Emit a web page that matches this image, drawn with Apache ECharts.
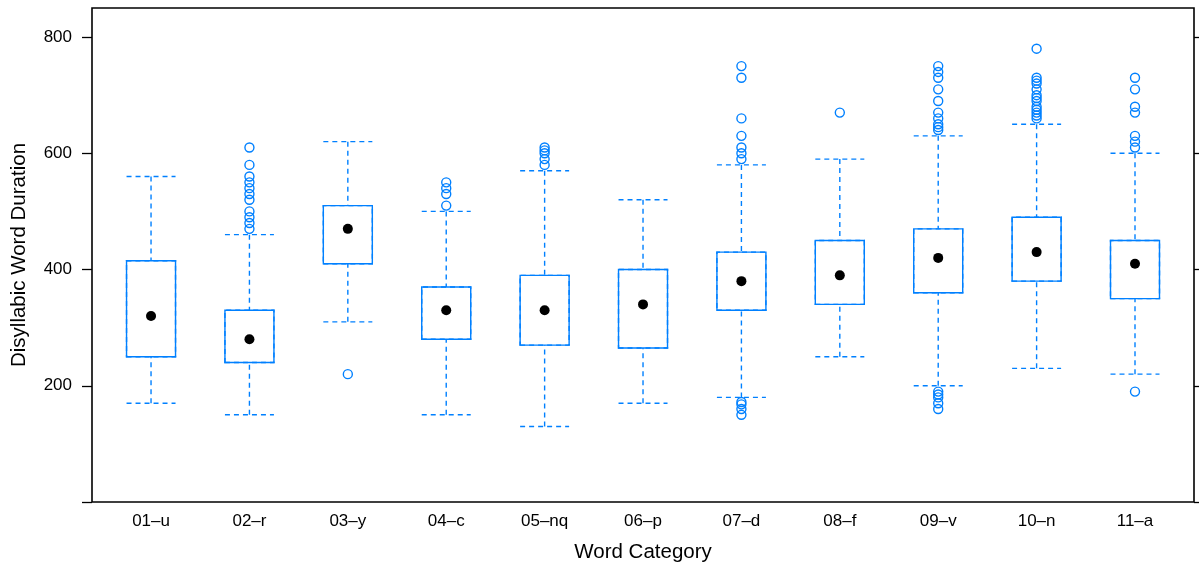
<!DOCTYPE html>
<html>
<head>
<meta charset="utf-8">
<script src="https://cdn.jsdelivr.net/npm/echarts@6/dist/echarts.min.js"></script>
<style>html,body{margin:0;padding:0;background:#fff;}#c{width:1199px;height:569px;}</style>
</head>
<body>
<div id="c"></div>
<script>
const categories = ['01–u','02–r','03–y','04–c','05–nq','06–p','07–d','08–f','09–v','10–n','11–a'];
const whiskerLow  = [170,150,310,150,130,170,180,250,200,230,220];
const q1          = [250,240,410,280,270,265,330,340,360,380,350];
const medians     = [320,280,470,330,330,340,380,390,420,430,410];
const q3          = [415,330,510,370,390,400,430,450,470,490,450];
const whiskerHigh = [560,460,620,500,570,520,580,590,630,650,600];
const out01 = [];
const out02 = [610,580,560,550,540,530,520,500,490,480,470];
const out03 = [220];
const out04 = [550,540,530,510];
const out05 = [610,605,600,590,580];
const out06 = [];
const out07 = [750,730,660,630,610,600,590,172,168,160,150];
const out08 = [670];
const out09 = [750,740,730,710,690,670,660,650,645,640,190,185,180,170,160];
const out10 = [780,730,725,720,710,700,695,690,680,675,670,665,660];
const out11 = [730,710,680,670,630,620,610,190];
const yTickValues = [0,200,400,600,800];
const yLabelValues = [200,400,600,800];

const outlierLists = [out01,out02,out03,out04,out05,out06,out07,out08,out09,out10,out11];
const whiskerData = categories.map((c,i)=>[whiskerLow[i], q1[i], q1[i], q3[i], whiskerHigh[i]]);
const boxData = categories.map((c,i)=>[q1[i], q1[i], q1[i], q3[i], q3[i]]);
const outlierData = [];
outlierLists.forEach((lst,i)=>lst.forEach(v=>outlierData.push([i, v])));
const medianData = medians.map((v,i)=>[i, v]);

const BLUE = '#0080ff';
const FONT = 'Liberation Sans, Arial, sans-serif';
const chart = echarts.init(document.getElementById('c'), null, {renderer:'canvas'});
chart.setOption({
  animation: false,
  grid: [
    {left: 92, right: 5, top: 8, bottom: 67, show: true, borderColor: '#000', borderWidth: 1.6, backgroundColor: 'transparent'},
    {left: 101.84, right: 14.8, top: 8, bottom: 67}
  ],
  xAxis: [
    {gridIndex: 0, type: 'value', show: false, min: 0, max: 1},
    {gridIndex: 1, type: 'category', data: categories,
     axisLine: {show: false}, axisTick: {show: false}, splitLine: {show: false},
     axisLabel: {margin: 11, fontSize: 17, color: '#000', fontFamily: FONT},
     name: 'Word Category', nameLocation: 'middle', nameGap: 40,
     nameTextStyle: {fontSize: 20.5, color: '#000', fontFamily: FONT}},
    {gridIndex: 1, type: 'category', data: categories, show: false}
  ],
  yAxis: [
    {gridIndex: 0, type: 'value', min: 0, max: 850, position: 'left',
     axisLine: {show: false}, splitLine: {show: false},
     axisTick: {show: true, inside: false, length: 10, customValues: yTickValues, lineStyle: {color: '#000', width: 1.3}},
     axisLabel: {customValues: yLabelValues, margin: 20, fontSize: 17, color: '#000', fontFamily: FONT},
     name: 'Disyllabic Word Duration', nameLocation: 'middle', nameGap: 62, nameRotate: 90,
     nameTextStyle: {fontSize: 20.5, color: '#000', fontFamily: FONT}},
    {gridIndex: 0, type: 'value', min: 0, max: 850, position: 'right',
     axisLine: {show: false}, splitLine: {show: false},
     axisTick: {show: true, inside: false, length: 10, customValues: yTickValues, lineStyle: {color: '#000', width: 1.3}},
     axisLabel: {show: false}},
    {gridIndex: 1, type: 'value', min: 0, max: 850, show: false}
  ],
  series: [
    {type: 'boxplot', xAxisIndex: 1, yAxisIndex: 2, data: whiskerData, boxWidth: [49, 49],
     itemStyle: {color: 'transparent', borderColor: BLUE, borderWidth: 1.4, borderType: [5, 4]},
     emphasis: {disabled: true}, silent: true, z: 2},
    {type: 'boxplot', xAxisIndex: 2, yAxisIndex: 2, data: boxData, boxWidth: [49, 49],
     itemStyle: {color: 'transparent', borderColor: BLUE, borderWidth: 1.4},
     emphasis: {disabled: true}, silent: true, z: 3},
    {type: 'scatter', xAxisIndex: 1, yAxisIndex: 2, data: outlierData, symbol: 'circle', symbolSize: 9,
     itemStyle: {color: 'rgba(255,255,255,0)', borderColor: BLUE, borderWidth: 1.4, opacity: 1}, silent: true, z: 4},
    {type: 'scatter', xAxisIndex: 1, yAxisIndex: 2, data: medianData, symbol: 'circle', symbolSize: 10,
     itemStyle: {color: '#000', opacity: 1}, silent: true, z: 5}
  ]
});
</script>
</body>
</html>
